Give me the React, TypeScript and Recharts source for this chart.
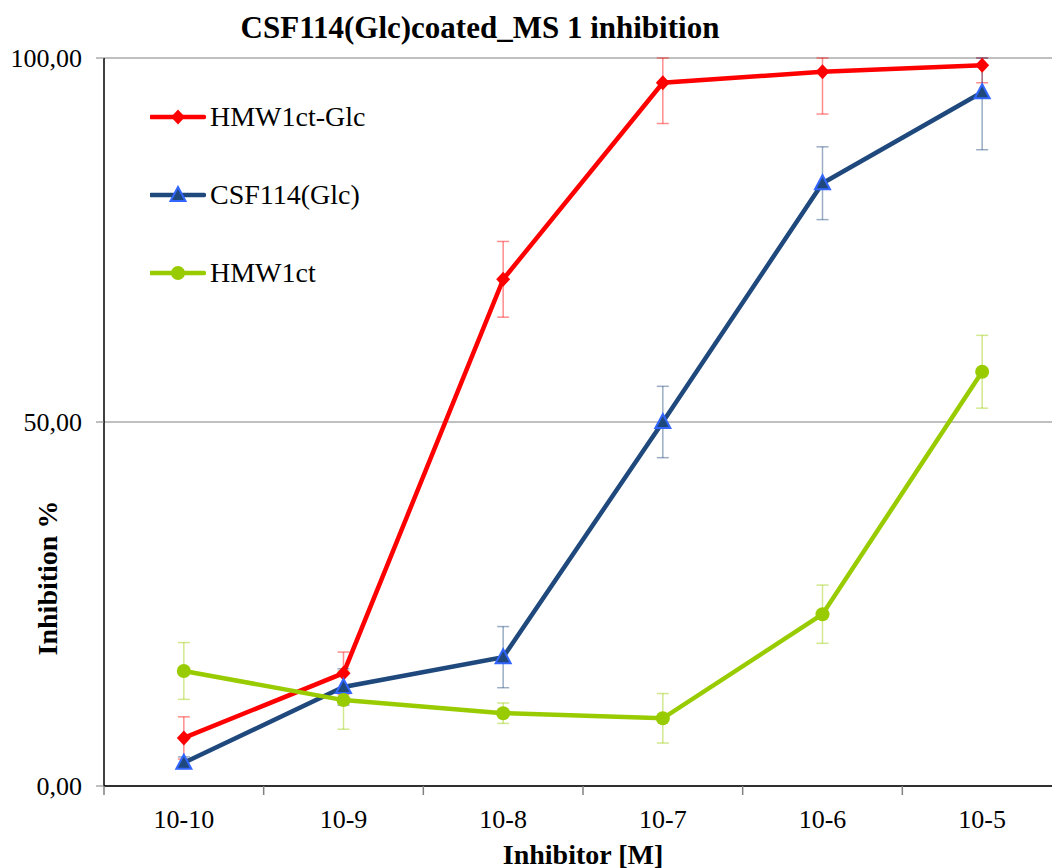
import { CartesianGrid, ErrorBar, Legend, Line, LineChart, XAxis, YAxis } from "recharts";

const concLabels = ["10-10", "10-9", "10-8", "10-7", "10-6", "10-5"];

const hmwGlc = [6.6, 15.5, 69.6, 96.6, 98.1, 99.0];
const hmwGlcErr = [2.9, 2.9, 5.2, 5.6, 5.8, 2.4];

const csf = [3.2, 13.6, 17.7, 50.0, 82.8, 95.3];
const csfErr = [0.8, 2.5, 4.2, 4.9, 5.0, 7.9];

const hmw = [15.8, 11.8, 10.0, 9.3, 23.6, 56.9];
const hmwErr = [3.9, 4.0, 1.4, 3.4, 4.0, 5.0];

const yTicks = [0, 50, 100];
const boundaryTicks = [-0.5, 0.5, 1.5, 2.5, 3.5, 4.5, 5.5];
const Y_MAX = 100;

// error bars are cut at the top of the plot, like in the original
const clipErr = (v: number, e: number) => [e, Math.min(e, Y_MAX - v)];

const data = concLabels.map((label, i) => ({
  idx: i,
  label,
  hmwGlc: hmwGlc[i],
  hmwGlcErr: clipErr(hmwGlc[i], hmwGlcErr[i]),
  csf: csf[i],
  csfErr: clipErr(csf[i], csfErr[i]),
  hmw: hmw[i],
  hmwErr: clipErr(hmw[i], hmwErr[i]),
}));

const FONT = '"Liberation Serif", "Times New Roman", serif';

const RED = "#FF0000";
const NAVY = "#1F497D";
const BLUE_EDGE = "#3366FF";
const GREEN = "#99CC00";

const Diamond = ({ cx, cy }: any) => (
  <polygon points={`${cx},${cy - 7.5} ${cx + 7},${cy} ${cx},${cy + 7.5} ${cx - 7},${cy}`} fill={RED} />
);
const Triangle = ({ cx, cy }: any) => (
  <polygon
    points={`${cx},${cy - 8} ${cx + 7.5},${cy + 6} ${cx - 7.5},${cy + 6}`}
    fill={NAVY}
    stroke={BLUE_EDGE}
    strokeWidth={2}
  />
);
const Dot = ({ cx, cy }: any) => <circle cx={cx} cy={cy} r={7} fill={GREEN} />;

const series = [
  { key: "hmwGlc", name: "HMW1ct-Glc", color: RED, Shape: Diamond },
  { key: "csf", name: "CSF114(Glc)", color: NAVY, Shape: Triangle },
  { key: "hmw", name: "HMW1ct", color: GREEN, Shape: Dot },
];

const renderLegend = () => (
  <div style={{ fontFamily: FONT, fontSize: 28, color: "#000" }}>
    {series.map(({ name, color, Shape }) => (
      <div key={name} style={{ display: "flex", alignItems: "center", height: 78 }}>
        <svg width={56} height={20}>
          <line x1={1} y1={10} x2={54} y2={10} stroke={color} strokeWidth={4.5} strokeLinecap="round" />
          <Shape cx={28} cy={10} />
        </svg>
        <span style={{ marginLeft: 4, lineHeight: 1 }}>{name}</span>
      </div>
    ))}
  </div>
);

const App = () => {
  return (
    <div
      style={{
        position: "absolute",
        left: 0,
        top: 0,
        width: 1052,
        height: 868,
        overflow: "hidden",
        background: "#fff",
      }}
    >
      <div
        style={{
          position: "absolute",
          left: 0,
          top: 12,
          width: 960,
          textAlign: "center",
          fontFamily: FONT,
          fontWeight: "bold",
          fontSize: 31,
          lineHeight: "31px",
        }}
      >
        CSF114(Glc)coated_MS 1 inhibition
      </div>

      <LineChart width={1070} height={868} data={data} margin={{ top: 58, right: 8, bottom: 80, left: 0 }}>
        <CartesianGrid vertical={false} stroke="#808080" />
        <XAxis
          xAxisId="lab"
          dataKey="idx"
          type="number"
          domain={[-0.5, 5.5]}
          ticks={[0, 1, 2, 3, 4, 5]}
          interval={0}
          tickFormatter={(v: number) => concLabels[v]}
          axisLine={false}
          tickLine={false}
          tickSize={9}
          tickMargin={14}
          height={1}
          tick={{ fill: "#000", fontSize: 26, fontFamily: FONT }}
        />
        <XAxis
          xAxisId="edge"
          dataKey="idx"
          type="number"
          domain={[-0.5, 5.5]}
          ticks={boundaryTicks}
          interval={0}
          tickFormatter={() => ""}
          axisLine={{ stroke: "#000", strokeWidth: 1.5 }}
          tickLine={{ stroke: "#808080", strokeWidth: 1.5 }}
          tickSize={9}
          height={1}
        />
        <YAxis
          width={104}
          domain={[0, 100]}
          ticks={yTicks}
          tickFormatter={(v: number) => v.toFixed(2).replace(".", ",")}
          axisLine={{ stroke: "#000", strokeWidth: 1.5 }}
          tickLine={{ stroke: "#808080" }}
          tickSize={8}
          tickMargin={14}
          tick={{ fill: "#000", fontSize: 26, fontFamily: FONT }}
        />
        <Legend
          layout="vertical"
          align="center"
          verticalAlign="middle"
          wrapperStyle={{ position: "absolute", left: 150, top: 78, width: 300 }}
          content={renderLegend}
        />
        {series.map(({ key, name, color, Shape }) => (
          <Line
            key={key}
            xAxisId="lab"
            dataKey={key}
            name={name}
            stroke={color}
            strokeWidth={4.5}
            isAnimationActive={false}
            dot={(p: any) => <Shape key={`${key}-${p.index}`} cx={p.cx} cy={p.cy} />}
            activeDot={false}
          >
            <ErrorBar
              dataKey={`${key}Err`}
              direction="y"
              width={6}
              stroke={color}
              strokeOpacity={0.45}
              strokeWidth={1.5}
              isAnimationActive={false}
            />
          </Line>
        ))}
      </LineChart>

      <div
        style={{
          position: "absolute",
          left: 583 - 200,
          top: 848 - 7,
          width: 400,
          textAlign: "center",
          fontFamily: FONT,
          fontWeight: "bold",
          fontSize: 28,
          lineHeight: "28px",
        }}
      >
        Inhibitor [M]
      </div>
      <div
        style={{
          position: "absolute",
          left: 48 - 150,
          top: 578 - 14,
          width: 300,
          height: 28,
          textAlign: "center",
          fontFamily: FONT,
          fontWeight: "bold",
          fontSize: 28,
          lineHeight: "28px",
          transform: "rotate(-90deg)",
        }}
      >
        Inhibition %
      </div>
    </div>
  );
};

export default App;
